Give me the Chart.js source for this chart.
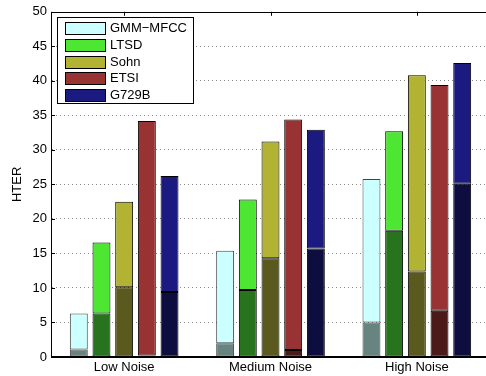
<!DOCTYPE html>
<html>
<head>
<meta charset="utf-8">
<script src="https://cdn.jsdelivr.net/npm/chart.js@4/dist/chart.umd.min.js"></script>
<style>
  html, body { margin: 0; padding: 0; background: #fff; overflow: hidden; }
  #wrap { width: 495px; height: 376px; }
</style>
</head>
<body>
<div id="wrap"><canvas id="chartCanvas" width="495" height="376"></canvas></div>
<script>
const categories = ["Low Noise", "Medium Noise", "High Noise"];
const seriesNames = ["GMM\u2212MFCC", "LTSD", "Sohn", "ETSI", "G729B"];

// bar tops (light part) and the darker lower part, per series
const gmmTotal = [6.3, 15.4, 25.8];
const gmmLower = [1.1, 2.0, 5.0];
const ltsdTotal = [16.6, 22.8, 32.7];
const ltsdLower = [6.3, 9.7, 18.3];
const sohnTotal = [22.5, 31.2, 40.8];
const sohnLower = [10.1, 14.3, 12.4];
const etsiTotal = [34.2, 34.4, 39.4];
const etsiLower = [0.2, 1.0, 6.7];
const g729Total = [26.2, 32.9, 42.6];
const g729Lower = [9.4, 15.7, 25.1];

const lightColors = ["#ccffff", "#4de632", "#b3b333", "#993333", "#1a1a80"];
const darkColors = ["#688480", "#27731e", "#5a5a1e", "#4d1a1a", "#0d0d40"];

const totals = [gmmTotal, ltsdTotal, sohnTotal, etsiTotal, g729Total];
const lowers = [gmmLower, ltsdLower, sohnLower, etsiLower, g729Lower];

const datasets = [];
seriesNames.forEach((name, i) => {
    const common = {
        stack: "s" + i,
        borderColor: i === 0 ? "#444" : "#000",
        borderWidth: 1,
        borderSkipped: false,
        categoryPercentage: 0.775,
        barPercentage: 0.79
    };
    datasets.push(Object.assign({
        label: name + " lower",
        data: lowers[i],
        backgroundColor: darkColors[i]
    }, common));
    datasets.push(Object.assign({
        label: name,
        data: totals[i].map((t, k) => t - lowers[i][k]),
        backgroundColor: lightColors[i]
    }, common));
});

const FONT = "'Liberation Sans', Arial, Helvetica, sans-serif";

const framePlugin = {
    id: "frame",
    afterDraw(chart) {
        const ctx = chart.ctx;
        const a = chart.chartArea;
        const y = chart.scales.y;
        const x = chart.scales.x;
        ctx.save();
        ctx.setLineDash([]);
        ctx.strokeStyle = "#000";
        ctx.lineWidth = 1;
        ctx.beginPath();
        // top border
        ctx.moveTo(a.left, Math.round(a.top) + 0.5);
        ctx.lineTo(a.right, Math.round(a.top) + 0.5);
        // left axis
        ctx.moveTo(Math.round(a.left) + 0.5, a.top);
        ctx.lineTo(Math.round(a.left) + 0.5, a.bottom);
        // y ticks inward
        y.ticks.forEach((t, i) => {
            const py = Math.round(y.getPixelForTick(i)) + 0.5;
            ctx.moveTo(a.left, py);
            ctx.lineTo(a.left + 4, py);
        });
        // top ticks at category centres
        categories.forEach((c, i) => {
            const px = Math.round(x.getPixelForTick(i)) + 0.5;
            ctx.moveTo(px, a.top);
            ctx.lineTo(px, a.top + 4);
        });
        ctx.stroke();
        // bottom axis (a bit heavier)
        ctx.lineWidth = 2;
        ctx.beginPath();
        ctx.moveTo(a.left, Math.round(a.bottom));
        ctx.lineTo(a.right, Math.round(a.bottom));
        ctx.stroke();

        // legend box
        const bx = 57.5, by = 17.5, bw = 136, bh = 86;
        ctx.fillStyle = "#fff";
        ctx.fillRect(bx, by, bw, bh);
        ctx.lineWidth = 1;
        ctx.strokeStyle = "#000";
        ctx.strokeRect(bx, by, bw, bh);
        ctx.font = "13px " + FONT;
        ctx.textBaseline = "middle";
        ctx.textAlign = "left";
        seriesNames.forEach((name, i) => {
            const cy = 28 + i * 16.8;
            ctx.fillStyle = lightColors[i];
            ctx.fillRect(65.5, Math.round(cy - 6) + 0.5, 40, 12);
            ctx.strokeStyle = "#000";
            ctx.strokeRect(65.5, Math.round(cy - 6) + 0.5, 40, 12);
            ctx.fillStyle = "#000";
            ctx.fillText(name, 110, cy + 0.5);
        });
        ctx.restore();
    }
};

new Chart(document.getElementById("chartCanvas"), {
    type: "bar",
    data: { labels: categories, datasets: datasets },
    options: {
        responsive: false,
        animation: false,
        layout: { padding: { top: 11, right: 5, left: 0, bottom: 0 } },
        plugins: {
            legend: { display: false },
            tooltip: { enabled: false }
        },
        scales: {
            x: {
                stacked: true,
                grid: { display: false, drawTicks: false },
                border: { display: false },
                ticks: { color: "#000", font: { family: FONT, size: 13 }, padding: 3, maxRotation: 0 },
                afterFit(scale) { scale.height = 19; }
            },
            y: {
                stacked: true,
                min: 0,
                max: 50,
                border: { display: true, color: "rgba(0,0,0,0)", dash: [1, 3], dashOffset: 0 },
                grid: {
                    drawTicks: false,
                    borderDash: [1, 3],
                    color: ctx => (ctx.tick && (ctx.tick.value === 0 || ctx.tick.value === 50)) ? "rgba(0,0,0,0)" : "#888"
                },
                ticks: { stepSize: 5, color: "#000", font: { family: FONT, size: 13 }, padding: 4 },
                title: {
                    display: true,
                    text: "HTER",
                    color: "#000",
                    font: { family: FONT, size: 13 },
                    padding: { top: 10, bottom: 0 }
                },
                afterFit(scale) { scale.width = 51; }
            }
        }
    },
    plugins: [framePlugin]
});
</script>
</body>
</html>
